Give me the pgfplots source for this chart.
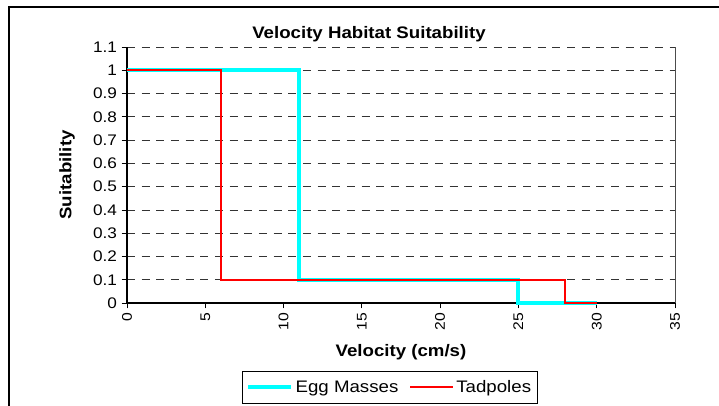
\documentclass[border=0pt]{standalone}
\usepackage{fontspec}
\setmainfont{Liberation Sans}[FakeStretch=1.12]
\usepackage{pgfplots}
\pgfplotsset{compat=1.18}
\definecolor{eggcyan}{RGB}{0,255,255}
\definecolor{tadred}{RGB}{255,0,0}
\begin{document}
\begin{tikzpicture}
\begin{axis}[
  at={(95.25pt,76.5pt)}, anchor=south west,
  scale only axis, width=411pt, height=192pt,
  xmin=0, xmax=35, ymin=0, ymax=1.1,
  xtick={0,5,...,35},
  ytick={0,0.1,0.2,0.3,0.4,0.5,0.6,0.7,0.8,0.9,1,1.1},
  yticklabels={0,0.1,0.2,0.3,0.4,0.5,0.6,0.7,0.8,0.9,1,1.1},
  axis x line*=bottom, axis y line*=left,
  axis line style={black, line width=0.8pt},
  tick align=outside, major tick length=4pt,
  tick style={black, line width=0.6pt},
  ymajorgrids,
  major grid style={black!80, dash pattern=on 6pt off 5pt, line width=0.6pt},
  /pgf/number format/assume math mode=true,
  yticklabel style={font=\fontsize{11.5}{13}\selectfont},
  xticklabel style={rotate=90, anchor=east, font=\fontsize{10.5}{12}\selectfont},
  xlabel={\bfseries Velocity (cm/s)},
  ylabel={\bfseries Suitability},
  label style={font=\fontsize{12.5}{14}\selectfont},
  xlabel style={at={(axis description cs:0.5,0)}, anchor=center, yshift=-37pt},
  ylabel style={at={(axis description cs:0,0.5)}, anchor=center, yshift=45pt},
  clip=false,
  legend columns=2,
  legend style={at={(axis description cs:0.48,-0.33)}, anchor=center,
    draw=black, line width=0.6pt, font=\fontsize{12.5}{14}\selectfont,
    inner xsep=3pt, inner ysep=5pt,
    /tikz/every even column/.append style={column sep=6pt}},
  legend image code/.code={\draw[#1] (0pt,0pt) -- (32pt,0pt);},
]
\addplot[draw=eggcyan, line width=3pt] coordinates {(0,1) (11,1) (11,0.1) (25,0.1) (25,0) (30,0)};
\addlegendentry{Egg Masses}
\addplot[draw=tadred, line width=1.5pt] coordinates {(0,1) (6,1) (6,0.1) (28,0.1) (28,0) (30,0)};
\addlegendentry{Tadpoles}
\draw[black!70, line width=0.6pt] (rel axis cs:1,0) -- (rel axis cs:1,1);
\end{axis}
\draw[black, line width=1pt] (6.75pt,-10pt) -- (6.75pt,298.5pt) -- (560pt,298.5pt);
\node[font=\fontsize{12.5}{14}\selectfont\bfseries, anchor=base] at (276.75pt,275.25pt) {Velocity Habitat Suitability};
\pgfresetboundingbox
\path[use as bounding box] (0,0) rectangle (539.25pt,303.75pt);
\end{tikzpicture}
\end{document}
